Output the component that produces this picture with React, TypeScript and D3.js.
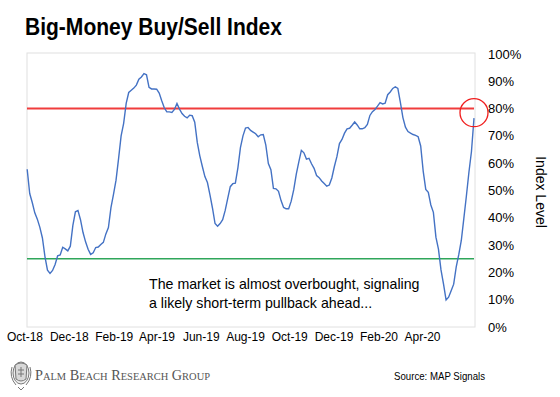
import React from "react";
import * as d3 from "d3";

const width = 560;
const height = 397;
const plot = { left: 27, right: 475, top: 53, bottom: 327 };

// readings of the index (%), twice a week, first reading Thu 4 Oct 2018
const firstDate = new Date(2018, 9, 4);
const indexLevel = [
  57.8, 48.9, 45.6, 41.8, 39.5, 36.5, 32.6, 25.8, 20.8, 19.6,
  20.7, 22.9, 26.1, 26.4, 29.2, 28.6, 27.9, 29.6, 37.2, 42.2,
  42.7, 39.3, 34.6, 31.2, 28.5, 26.6, 27.2, 29.1, 29.3, 30.2,
  31, 34.1, 36.4, 43.7, 48.6, 53.8, 61.7, 70, 74.6, 81.9,
  85.9, 86.7, 87.5, 88.6, 90.8, 91.6, 92.8, 92.4, 87.8, 87.2,
  87.2, 87.1, 85.7, 82.9, 80.3, 78.8, 78.8, 78.6, 79.7, 81.9,
  79.8, 78.2, 77.2, 76.6, 77.6, 77.4, 75, 67.6, 62.7, 58.8,
  55.1, 52.9, 48.4, 43.5, 37.9, 36.9, 37.9, 39.3, 42.7, 47.1,
  51.4, 52.5, 52.7, 58.3, 65.7, 70, 72.9, 73.1, 72, 71.4,
  70.8, 69.7, 70.4, 70.5, 66.6, 59.9, 57.6, 50.8, 50.6, 49.7,
  46.3, 43.8, 43.3, 43.3, 46.1, 50.3, 56, 60.5, 64.7, 63.8,
  61.5, 61.8, 59.8, 58.1, 55.5, 54.7, 53.5, 52.6, 51.6, 52,
  54.6, 58.8, 62.4, 67.2, 68.7, 71, 72.6, 72.8, 73.9, 75.1,
  74, 72.6, 72.6, 73, 74.2, 77.5, 78.9, 79.7, 80.9, 82.2,
  81.7, 82, 85.1, 86.1, 87.4, 88, 87.4, 82.3, 76.7, 73.2,
  71.6, 71, 70.5, 70.2, 69.7, 66.3, 57, 50.4, 49.3, 44.7,
  42, 32.9, 28.5, 20.9, 15.7, 9.9, 10.9, 13.3, 15.7, 22,
  26.5, 31.7, 39.8, 48, 56.7, 64.3, 76.5,
];
const monthLabels = [
  "Oct-18", "Dec-18", "Feb-19", "Apr-19", "Jun-19",
  "Aug-19", "Oct-19", "Dec-19", "Feb-20", "Apr-20",
];
const yTicks = [0, 10, 20, 30, 40, 50, 60, 70, 80, 90, 100];
const overbought = 80;
const oversold = 25;
const circledValue = 78.5;

const noteLines = [
  "The market is almost overbought, signaling",
  "a likely short-term pullback ahead...",
];

export default function App() {
  const dates = indexLevel.map((_, i) => d3.timeHour.offset(firstDate, i * 84));
  const points = indexLevel.map((v, i) => ({ date: dates[i], value: v }));
  const lastDate = dates[dates.length - 1];

  const x = d3
    .scaleTime()
    .domain([new Date(2018, 9, 1), lastDate])
    .range([25, 474]);
  const y = d3.scaleLinear().domain([0, 100]).range([plot.bottom, 54]);

  const line = d3
    .line<{ date: Date; value: number }>()
    .x((d) => x(d.date))
    .y((d) => y(d.value));

  const tickDates = monthLabels.map((_, i) => new Date(2018, 9 + i * 2, 1));
  const font = "'Liberation Sans', Arial, sans-serif";

  return (
    <svg
      width={width}
      height={height}
      style={{ position: "absolute", left: 0, top: 0, background: "#fff" }}
      fontFamily={font}
    >
      <text
        x={25}
        y={35}
        fontSize={23}
        fontWeight="bold"
        textLength={257}
        lengthAdjust="spacingAndGlyphs"
        fill="#000"
      >
        Big-Money Buy/Sell Index
      </text>

      <rect
        x={plot.left}
        y={plot.top}
        width={plot.right - plot.left}
        height={plot.bottom - plot.top}
        fill="none"
        stroke="#e0e0e0"
      />

      <line
        x1={plot.left}
        x2={x(lastDate)}
        y1={y(overbought)}
        y2={y(overbought)}
        stroke="#f03c3c"
        strokeWidth={2}
      />
      <line
        x1={plot.left}
        x2={x(lastDate)}
        y1={y(oversold)}
        y2={y(oversold)}
        stroke="#2fa65a"
        strokeWidth={1.6}
      />

      <path d={line(points) ?? ""} fill="none" stroke="#4472c4" strokeWidth={1.4} />

      <circle
        cx={x(lastDate)}
        cy={y(circledValue)}
        r={14}
        fill="none"
        stroke="#f01e1e"
        strokeWidth={1.3}
      />

      {noteLines.map((t, i) => (
        <text key={t} x={149} y={289 + i * 18.5} fontSize={14.2} fill="#000">
          {t}
        </text>
      ))}

      {yTicks.map((t) => (
        <text key={t} x={488} y={y(t)} dy="0.35em" fontSize={13} fill="#000">
          {t + "%"}
        </text>
      ))}

      <text
        transform={`translate(536,192) rotate(90)`}
        textAnchor="middle"
        fontSize={14}
        fill="#000"
      >
        Index Level
      </text>

      {monthLabels.map((lab, i) => (
        <text
          key={lab}
          x={x(tickDates[i])}
          y={341}
          textAnchor="middle"
          fontSize={12}
          fill="#000"
        >
          {lab}
        </text>
      ))}

      <g transform="translate(21,373)" stroke="#777" fill="none" strokeWidth={1}>
        <ellipse rx={8} ry={11} fill="#eee" />
        <path d="M-6,-8 Q0,-12 6,-8 L5,6 Q0,10 -5,6 Z" fill="#d8d8d8" />
        <path d="M-3,-3 h6 M-3,1 h6 M0,-6 v10" />
        <path d="M-9,-6 Q-12,4 -5,12 M9,-6 Q12,4 5,12" />
        <path d="M-3,14 L0,17 L3,14" />
      </g>
      <text
        x={35}
        y={380}
        fontFamily="'Liberation Serif', 'Times New Roman', serif"
        fontSize={15}
        style={{ fontVariant: "small-caps" }}
        textLength={175}
        lengthAdjust="spacingAndGlyphs"
        fill="#555"
      >
        Palm Beach Research Group
      </text>
      <text
        x={394}
        y={380}
        fontSize={11.5}
        textLength={91}
        lengthAdjust="spacingAndGlyphs"
        fill="#000"
      >
        Source: MAP Signals
      </text>
    </svg>
  );
}
